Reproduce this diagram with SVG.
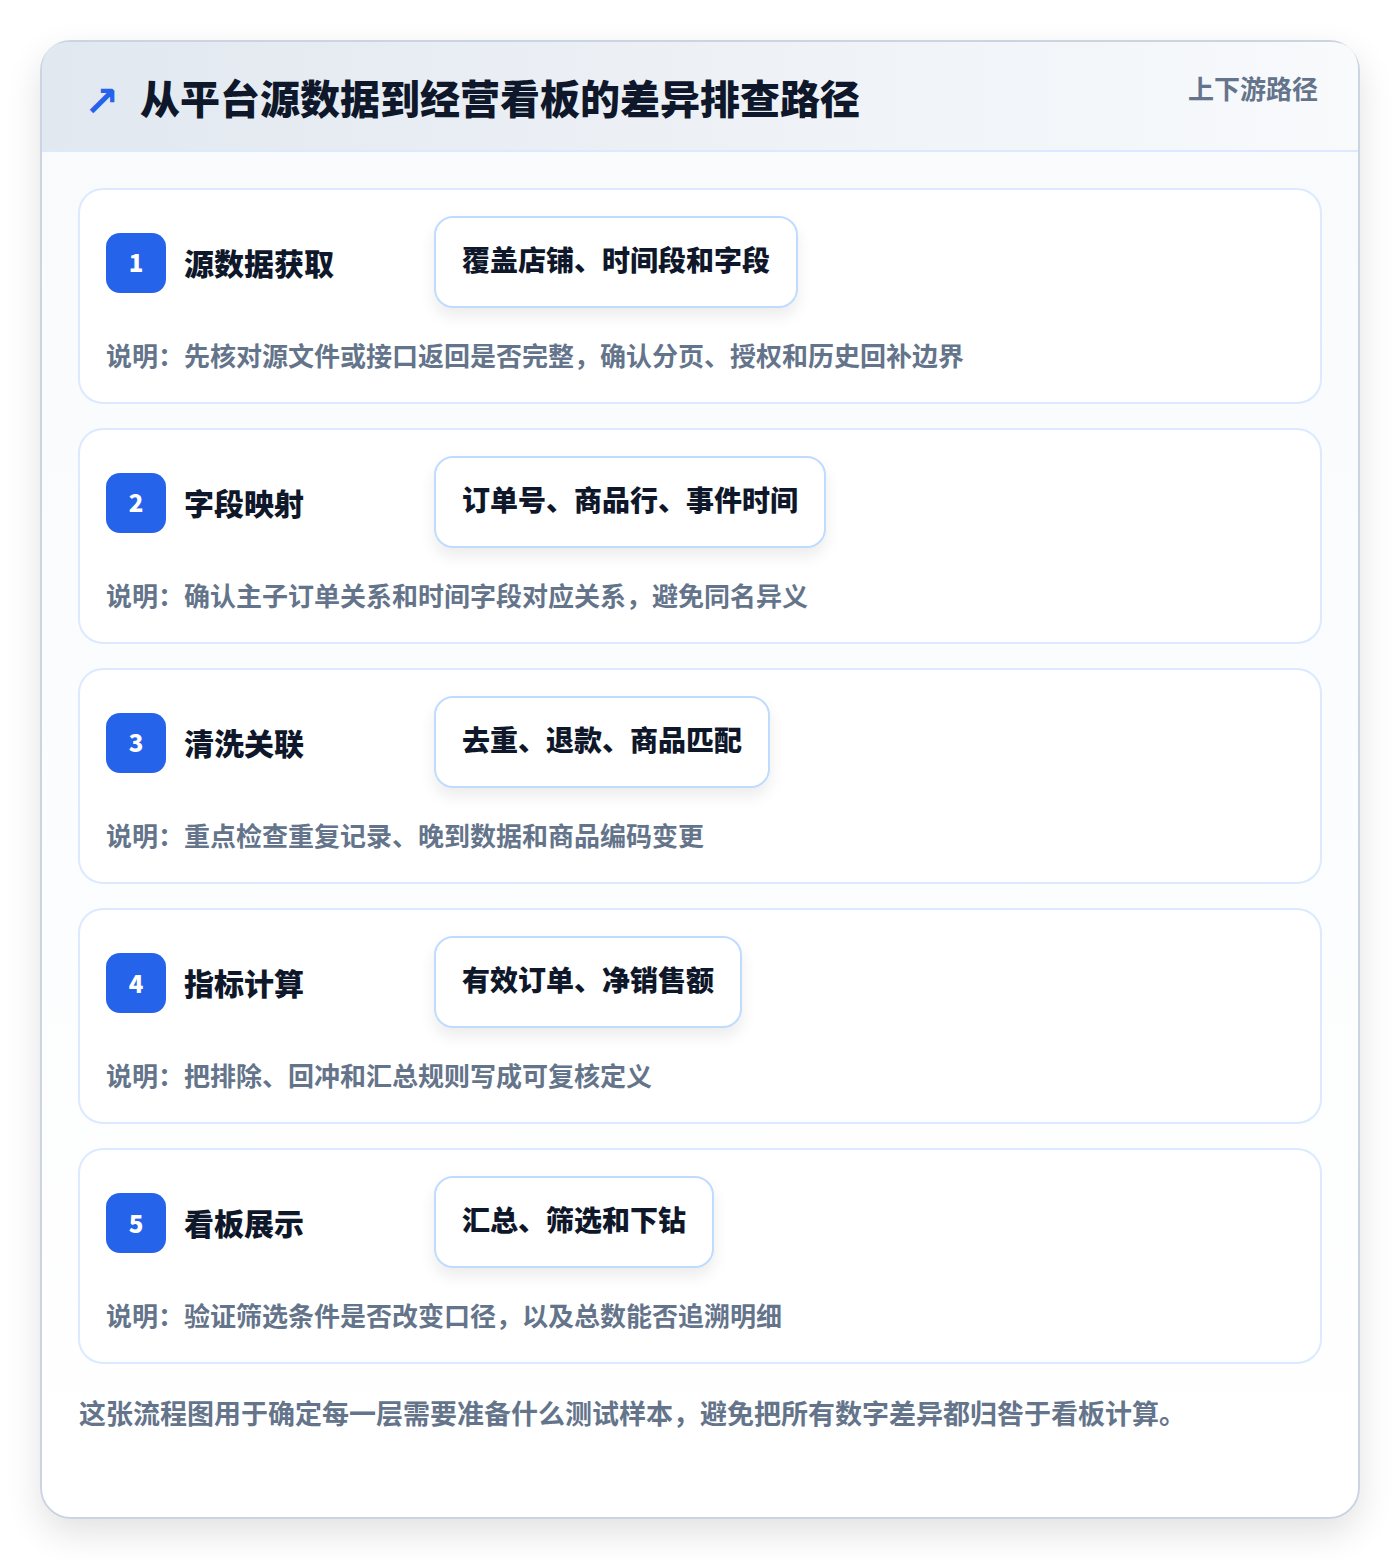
<svg xmlns="http://www.w3.org/2000/svg" width="1400" height="1560" viewBox="0 0 1400 1560">
<defs>
<linearGradient id="hdr" x1="0" y1="0" x2="1" y2="0">
<stop offset="0" stop-color="#e2e8f0"/>
<stop offset="1" stop-color="#f8fafc"/>
</linearGradient>
<linearGradient id="body" x1="0" y1="0" x2="0" y2="1">
<stop offset="0" stop-color="#f8fafc"/>
<stop offset="1" stop-color="#ffffff"/>
</linearGradient>
<filter id="outerShadow" x="-10%" y="-10%" width="120%" height="120%">
<feGaussianBlur in="SourceAlpha" stdDeviation="18"/>
<feOffset dy="14"/>
<feComponentTransfer><feFuncA type="linear" slope="0.12"/></feComponentTransfer>
<feMerge><feMergeNode/><feMergeNode in="SourceGraphic"/></feMerge>
</filter>
<filter id="chipShadow" x="-20%" y="-30%" width="140%" height="180%">
<feGaussianBlur in="SourceAlpha" stdDeviation="8"/>
<feOffset dy="8"/>
<feComponentTransfer><feFuncA type="linear" slope="0.08"/></feComponentTransfer>
<feMerge><feMergeNode/><feMergeNode in="SourceGraphic"/></feMerge>
</filter>
</defs>
<style>
.t{font-family:"Noto Sans CJK SC","Noto Sans",sans-serif;font-weight:700}
.h{font-weight:900}
.card{fill:#ffffff;stroke:#dbeafe;stroke-width:2}
.chip{fill:#ffffff;stroke:#bfdbfe;stroke-width:2}
.badge{fill:#2563eb}
.num{fill:#ffffff;font-size:24px;text-anchor:middle;font-weight:900}
.title{fill:#0f172a;font-size:30px;font-weight:900}
.chipText{fill:#0f172a;font-size:28px;font-weight:800}
.desc{fill:#64748b;font-size:26px}
</style>
<rect width="1400" height="1560" fill="#ffffff"/>
<g id="frame">
<rect x="41" y="41" width="1318" height="1477" rx="30" fill="url(#body)" stroke="#cbd5e1" stroke-width="2" filter="url(#outerShadow)"/>
<path d="M42 70 Q42 42 70 42 L1330 42 Q1358 42 1358 70 L1358 151 L42 151 Z" fill="url(#hdr)"/>
<line x1="42" y1="151" x2="1358" y2="151" stroke="#dbeafe" stroke-width="2"/>
</g>
<g id="header">
<text x="84" y="116" font-size="42" font-weight="700" fill="#2563eb" font-family="'DejaVu Sans',sans-serif">↗</text>
<text class="t h" x="140" y="114" font-size="40" fill="#0f172a">从平台源数据到经营看板的差异排查路径</text>
<text class="t" x="1318" y="99" font-size="26" fill="#64748b" text-anchor="end">上下游路径</text>
</g>
<g id="connectors"></g>
<g id="step1">
<rect class="card" x="79" y="189" width="1242" height="214" rx="24"/>
<rect class="badge" x="106" y="233" width="60" height="60" rx="14"/>
<text class="t num" x="136" y="272">1</text>
<text class="t title" x="184" y="275">源数据获取</text>
<rect class="chip" x="435" y="217" width="362" height="90" rx="18" filter="url(#chipShadow)"/>
<text class="t chipText" x="462" y="271">覆盖店铺、时间段和字段</text>
<text class="t desc" x="106" y="366">说明：先核对源文件或接口返回是否完整，确认分页、授权和历史回补边界</text>
</g>
<g id="step2">
<rect class="card" x="79" y="429" width="1242" height="214" rx="24"/>
<rect class="badge" x="106" y="473" width="60" height="60" rx="14"/>
<text class="t num" x="136" y="512">2</text>
<text class="t title" x="184" y="515">字段映射</text>
<rect class="chip" x="435" y="457" width="390" height="90" rx="18" filter="url(#chipShadow)"/>
<text class="t chipText" x="462" y="511">订单号、商品行、事件时间</text>
<text class="t desc" x="106" y="606">说明：确认主子订单关系和时间字段对应关系，避免同名异义</text>
</g>
<g id="step3">
<rect class="card" x="79" y="669" width="1242" height="214" rx="24"/>
<rect class="badge" x="106" y="713" width="60" height="60" rx="14"/>
<text class="t num" x="136" y="752">3</text>
<text class="t title" x="184" y="755">清洗关联</text>
<rect class="chip" x="435" y="697" width="334" height="90" rx="18" filter="url(#chipShadow)"/>
<text class="t chipText" x="462" y="751">去重、退款、商品匹配</text>
<text class="t desc" x="106" y="846">说明：重点检查重复记录、晚到数据和商品编码变更</text>
</g>
<g id="step4">
<rect class="card" x="79" y="909" width="1242" height="214" rx="24"/>
<rect class="badge" x="106" y="953" width="60" height="60" rx="14"/>
<text class="t num" x="136" y="993">4</text>
<text class="t title" x="184" y="995">指标计算</text>
<rect class="chip" x="435" y="937" width="306" height="90" rx="18" filter="url(#chipShadow)"/>
<text class="t chipText" x="462" y="991">有效订单、净销售额</text>
<text class="t desc" x="106" y="1086">说明：把排除、回冲和汇总规则写成可复核定义</text>
</g>
<g id="step5">
<rect class="card" x="79" y="1149" width="1242" height="214" rx="24"/>
<rect class="badge" x="106" y="1193" width="60" height="60" rx="14"/>
<text class="t num" x="136" y="1233">5</text>
<text class="t title" x="184" y="1235">看板展示</text>
<rect class="chip" x="435" y="1177" width="278" height="90" rx="18" filter="url(#chipShadow)"/>
<text class="t chipText" x="462" y="1231">汇总、筛选和下钻</text>
<text class="t desc" x="106" y="1326">说明：验证筛选条件是否改变口径，以及总数能否追溯明细</text>
</g>
<g id="footer">
<text class="t" x="79" y="1424" font-size="27" fill="#64748b">这张流程图用于确定每一层需要准备什么测试样本，避免把所有数字差异都归咎于看板计算。</text>
</g>
</svg>
